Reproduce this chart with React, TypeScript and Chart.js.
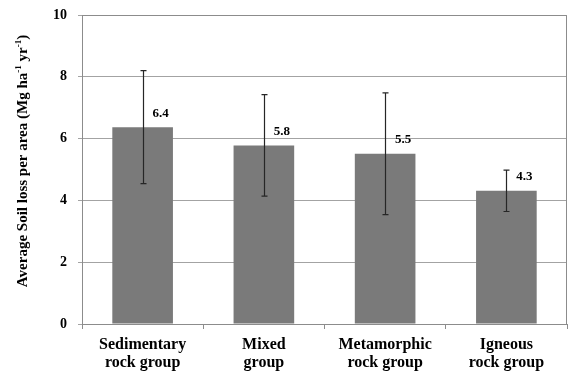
import React, { useEffect, useRef } from "react";
import { Chart, registerables } from "chart.js";

Chart.register(...registerables);

const categories: string[][] = [
  ["Sedimentary", "rock group"],
  ["Mixed", "group"],
  ["Metamorphic", "rock group"],
  ["Igneous", "rock group"],
];
const meanValues: number[] = [6.37, 5.78, 5.51, 4.31];
const sdValues: number[] = [1.83, 1.64, 1.97, 0.67];
const yTicks: number[] = [0, 2, 4, 6, 8, 10];

const FONT = "'Liberation Serif', 'Times New Roman', serif";
const GRID = "#a3a3a3";
const AXIS = "#8c8c8c";

const overlayPlugin = {
  id: "overlay",
  afterDatasetsDraw(chart: any) {
    const ctx = chart.ctx;
    const meta = chart.getDatasetMeta(0);
    const y = chart.scales.y;
    ctx.save();
    // error bars
    ctx.strokeStyle = "#262626";
    ctx.lineWidth = 1.2;
    meta.data.forEach((bar: any, i: number) => {
      const x = Math.round(bar.x) + 0.5;
      const top = y.getPixelForValue(meanValues[i] + sdValues[i]);
      const bot = y.getPixelForValue(meanValues[i] - sdValues[i]);
      ctx.beginPath();
      ctx.moveTo(x, top);
      ctx.lineTo(x, bot);
      ctx.moveTo(x - 3, top);
      ctx.lineTo(x + 3, top);
      ctx.moveTo(x - 3, bot);
      ctx.lineTo(x + 3, bot);
      ctx.stroke();
    });
    // value labels
    ctx.fillStyle = "#000";
    ctx.font = `bold 13px ${FONT}`;
    ctx.textAlign = "center";
    ctx.textBaseline = "middle";
    meta.data.forEach((bar: any, i: number) => {
      ctx.fillText(meanValues[i].toFixed(1), bar.x + 18, bar.y - 14);
    });
    // top and right border of plot area
    const a = chart.chartArea;
    ctx.strokeStyle = AXIS;
    ctx.lineWidth = 1;
    ctx.beginPath();
    const t = Math.round(a.top) + 0.5;
    const r = Math.round(a.right) - 0.5;
    ctx.moveTo(a.left, t);
    ctx.lineTo(r, t);
    ctx.lineTo(r, a.bottom);
    ctx.stroke();
    ctx.restore();
  },
  afterDraw(chart: any) {
    const ctx = chart.ctx;
    const parts: [string, boolean][] = [
      ["Average Soil loss per area (Mg ha", false],
      ["-1", true],
      [" yr", false],
      ["-1", true],
      [")", false],
    ];
    const main = `bold 15px ${FONT}`;
    const sup = `bold 9px ${FONT}`;
    ctx.save();
    let total = 0;
    parts.forEach(([t, s]) => {
      ctx.font = s ? sup : main;
      total += ctx.measureText(t).width;
    });
    ctx.translate(27, 161);
    ctx.rotate(-Math.PI / 2);
    ctx.fillStyle = "#000";
    ctx.textBaseline = "alphabetic";
    ctx.textAlign = "left";
    let x = -total / 2;
    parts.forEach(([t, s]) => {
      ctx.font = s ? sup : main;
      ctx.fillText(t, x, s ? -6 : 0);
      x += ctx.measureText(t).width;
    });
    ctx.restore();
  },
};

export default function App() {
  const ref = useRef<HTMLCanvasElement | null>(null);
  useEffect(() => {
    document.body.style.margin = "0";
    const canvas = ref.current;
    if (!canvas) return;
    const chart = new Chart(canvas, {
      type: "bar",
      data: {
        labels: categories,
        datasets: [
          {
            data: meanValues,
            backgroundColor: "#7a7a7a",
            borderWidth: 0,
            barPercentage: 0.5,
            categoryPercentage: 1,
          },
        ],
      },
      options: {
        animation: false,
        responsive: false,
        devicePixelRatio: 1,
        layout: { padding: { top: 15, right: 2, left: 0, bottom: 0 } },
        plugins: {
          legend: { display: false },
          tooltip: { enabled: false },
        },
        scales: {
          x: {
            grid: {
              drawOnChartArea: false,
              drawTicks: true,
              tickLength: 5,
              color: AXIS,
              offset: true,
            },
            border: { color: AXIS },
            ticks: {
              color: "#000",
              font: { family: FONT, size: 16, weight: "bold", lineHeight: 1.1 },
              padding: 7,
              maxRotation: 0,
            },
            afterFit: (s: any) => {
              s.height = 48;
            },
          },
          y: {
            min: 0,
            max: 10,
            afterBuildTicks: (s: any) => {
              s.ticks = yTicks.map((v) => ({ value: v }));
            },
            grid: { color: GRID, tickLength: 4, drawTicks: true },
            border: { color: AXIS },
            ticks: {
              color: "#000",
              font: { family: FONT, size: 14, weight: "bold" },
              padding: 11,
            },
            afterFit: (s: any) => {
              s.width = 82;
              s.paddingTop = 0;
              s.paddingBottom = 0;
            },
          },
        },
      },
      plugins: [overlayPlugin],
    });
    return () => chart.destroy();
  }, []);
  return (
    <div style={{ width: 569, height: 372 }}>
      <canvas ref={ref} width={569} height={372} style={{ display: "block" }} />
    </div>
  );
}
